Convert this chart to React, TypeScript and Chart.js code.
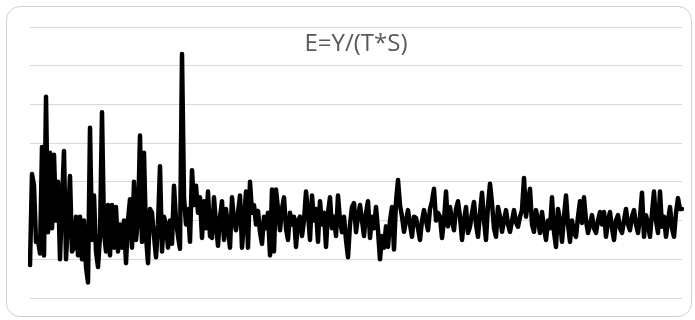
import React, { useEffect, useRef } from "react";
import { Chart, registerables } from "chart.js";

Chart.register(...registerables);

const TITLE = "E=Y/(T*S)";
const Y_MIN = 0;
const Y_MAX = 7;
const Y_STEP = 1;

const E_VALUES: number[] = [
  0.85, 3.2, 2.9, 1.45, 1.5, 1.15, 3.9, 1.1, 5.2, 1.7,
  3.75, 1.8, 3.7, 2.0, 3.0, 1.0, 2.5, 3.8, 1.0, 2.0,
  3.15, 1.2, 1.3, 2.1, 1.1, 2.1, 1.0, 2.0, 0.8, 0.4,
  4.4, 1.5, 2.65, 1.2, 0.8, 1.6, 4.8, 1.7, 1.2, 2.4,
  1.1, 2.4, 1.3, 2.35, 1.2, 1.9, 1.3, 2.0, 0.9, 2.0,
  2.55, 1.3, 3.0, 1.5, 2.0, 4.2, 1.45, 3.75, 1.6, 0.9,
  2.3, 2.2, 1.6, 1.05, 1.9, 3.4, 1.2, 2.1, 1.9, 1.3,
  2.0, 1.4, 2.9, 2.0, 1.6, 1.27, 6.3, 2.6, 1.9, 2.3,
  1.45, 3.3, 2.4, 2.9, 2.2, 2.6, 1.55, 2.5, 1.8, 2.75,
  1.6, 1.55, 2.6, 1.9, 1.35, 2.1, 2.5, 1.5, 2.3, 1.8,
  1.3, 2.6, 2.0, 1.75, 2.2, 2.65, 1.3, 2.0, 2.75, 1.3,
  3.0, 2.2, 2.4, 1.9, 2.25, 1.7, 1.4, 2.1, 1.8, 2.2,
  1.1, 2.8, 1.2, 2.8, 2.3, 1.75, 2.3, 2.6, 1.8, 1.5,
  2.2, 1.9, 2.1, 1.32, 2.0, 2.1, 1.6, 2.0, 2.75, 2.2,
  1.5, 2.65, 2.0, 2.3, 1.45, 2.5, 1.9, 2.2, 1.32, 2.2,
  2.6, 1.8, 2.1, 1.6, 2.65, 2.0, 1.7, 2.1, 1.5, 1.05,
  1.9, 2.35, 2.45, 1.7, 2.1, 2.4, 2.0, 1.6, 2.2, 2.5,
  1.55, 2.1, 1.8, 2.35, 1.75, 1.0, 1.6, 1.3, 1.85, 1.32,
  2.0, 2.35, 1.25, 2.48, 3.05, 2.4, 2.1, 1.71, 2.0, 2.27,
  1.9, 1.58, 2.1, 2.07, 1.8, 1.5, 2.0, 2.27, 2.0, 1.75,
  2.3, 2.5, 2.82, 2.0, 2.2, 2.1, 1.55, 2.0, 2.75, 1.85,
  2.35, 2.0, 1.75, 2.3, 2.5, 2.1, 1.5, 2.0, 2.35, 1.68,
  1.84, 2.2, 2.48, 1.9, 1.58, 2.2, 2.72, 2.0, 1.5, 2.4,
  2.95, 2.45, 1.8, 1.58, 2.35, 2.1, 1.71, 2.0, 2.27, 1.9,
  1.71, 2.0, 2.27, 1.95, 1.84, 2.1, 2.27, 3.1, 2.1, 2.5,
  2.82, 1.9, 1.71, 2.27, 2.0, 1.68, 2.22, 1.8, 1.5, 2.0,
  1.8, 2.6, 1.7, 1.32, 2.3, 2.0, 1.45, 2.1, 2.65, 1.9,
  1.45, 2.0, 1.7, 1.58, 2.1, 2.5, 1.94, 2.6, 2.0, 1.68,
  1.9, 2.14, 1.8, 1.68, 2.0, 2.22, 1.9, 2.22, 1.58, 2.0,
  2.22, 1.8, 1.5, 2.0, 2.14, 1.8, 1.68, 2.0, 2.3, 1.9,
  1.75, 2.1, 2.27, 1.9, 1.68, 2.1, 2.72, 1.58, 2.14, 1.9,
  1.58, 2.2, 2.75, 2.0, 1.68, 2.75, 1.84, 2.1, 1.58, 2.0,
  2.35, 1.8, 1.58, 2.2, 2.58, 2.3, 2.3,
];

const CATEGORIES: string[] = E_VALUES.map((_, i) => String(i + 1));

const titlePlugin = {
  id: "overlayTitle",
  afterDraw(chart: any) {
    const ctx = chart.ctx;
    ctx.save();
    ctx.font = "24px 'Open Sans'";
    ctx.fillStyle = "#595959";
    ctx.textAlign = "center";
    ctx.textBaseline = "alphabetic";
    ctx.fillText(TITLE, 356, 51);
    ctx.restore();
  },
};

export default function App() {
  const ref = useRef<HTMLCanvasElement | null>(null);

  useEffect(() => {
    if (!ref.current) return;
    const chart = new Chart(ref.current, {
      type: "line",
      data: {
        labels: CATEGORIES,
        datasets: [
          {
            data: E_VALUES,
            borderColor: "#000000",
            borderWidth: 4.5,
            pointRadius: 0,
            tension: 0,
            fill: false,
            borderJoinStyle: "round",
            borderCapStyle: "round",
          },
        ],
      },
      options: {
        animation: false,
        responsive: false,
        maintainAspectRatio: false,
        layout: { padding: { left: 30, right: 13, top: 27, bottom: 22 } },
        plugins: {
          legend: { display: false },
          title: { display: false },
          tooltip: { enabled: false },
        },
        scales: {
          x: { display: false },
          y: {
            min: Y_MIN,
            max: Y_MAX,
            ticks: { display: false, stepSize: Y_STEP },
            border: { display: false },
            grid: { color: "#d9d9d9", lineWidth: 1, drawTicks: false },
          },
        },
      },
      plugins: [titlePlugin],
    });
    return () => chart.destroy();
  }, []);

  return (
    <div style={{ position: "fixed", left: 0, top: 0, width: 695, height: 320, background: "#fff" }}>
      <div
        style={{
          position: "absolute",
          left: 6,
          top: 6,
          width: 684,
          height: 309,
          border: "1.5px solid #d0d0d0",
          borderRadius: 14,
        }}
      />
      <canvas ref={ref} width={695} height={320} style={{ position: "absolute", left: 0, top: 0 }} />
    </div>
  );
}
